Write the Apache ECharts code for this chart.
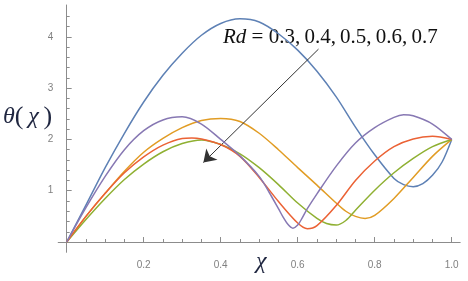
<!DOCTYPE html>
<html><head><meta charset="utf-8">
<script src="https://cdn.jsdelivr.net/npm/echarts@6/dist/echarts.min.js"></script>
<style>html,body{margin:0;padding:0;background:#fff}#c{width:468px;height:281px}</style>
</head><body><div id="c"></div>
<script>
// Data (x = chi, y = theta) per Rd value
const rdLabels = ['Rd=0.3','Rd=0.4','Rd=0.5','Rd=0.6','Rd=0.7'];
const blue = [[0,0],[0.05,0.72],[0.1,1.45],[0.15,2.12],[0.2,2.73],[0.25,3.25],[0.3,3.68],[0.35,4.03],[0.4,4.26],[0.45,4.35],[0.5,4.29],[0.55,4.06],[0.6,3.74],[0.65,3.33],[0.7,2.83],[0.75,2.24],[0.8,1.7],[0.85,1.24],[0.875,1.12],[0.9,1.08],[0.925,1.14],[0.95,1.3],[0.975,1.56],[1.0,2.0]];
const orange = [[0,0],[0.05,0.5],[0.1,0.95],[0.15,1.38],[0.2,1.75],[0.25,2.02],[0.3,2.23],[0.35,2.37],[0.4,2.41],[0.45,2.35],[0.5,2.12],[0.55,1.8],[0.6,1.45],[0.65,1.11],[0.7,0.76],[0.725,0.6],[0.75,0.5],[0.775,0.46],[0.8,0.52],[0.85,0.85],[0.9,1.26],[0.95,1.67],[1.0,2.0]];
const green = [[0,0],[0.05,0.44],[0.1,0.85],[0.15,1.22],[0.2,1.52],[0.25,1.76],[0.3,1.92],[0.35,1.99],[0.4,1.9],[0.45,1.72],[0.5,1.45],[0.55,1.12],[0.6,0.76],[0.65,0.46],[0.675,0.36],[0.7,0.33],[0.725,0.42],[0.75,0.62],[0.8,1.01],[0.85,1.35],[0.9,1.63],[0.95,1.86],[1.0,2.0]];
const red = [[0,0],[0.05,0.5],[0.1,0.95],[0.15,1.35],[0.2,1.66],[0.25,1.89],[0.3,2.02],[0.325,2.03],[0.35,2.01],[0.4,1.9],[0.45,1.67],[0.5,1.26],[0.55,0.79],[0.6,0.37],[0.625,0.26],[0.65,0.32],[0.7,0.71],[0.75,1.2],[0.8,1.58],[0.85,1.86],[0.9,2.01],[0.95,2.06],[1.0,2.0]];
const purple = [[0,0],[0.05,0.67],[0.1,1.28],[0.15,1.8],[0.2,2.17],[0.25,2.38],[0.3,2.44],[0.35,2.3],[0.4,2.0],[0.45,1.68],[0.5,1.28],[0.525,0.98],[0.55,0.65],[0.5625,0.48],[0.575,0.34],[0.5875,0.27],[0.6,0.33],[0.6125,0.48],[0.625,0.65],[0.65,0.94],[0.7,1.48],[0.75,1.93],[0.8,2.23],[0.85,2.43],[0.875,2.48],[0.9,2.46],[0.95,2.3],[1.0,2.0]];
const xTickLabels = [0.2,0.4,0.6,0.8,1.0];
const xMinorTicks = [0.05,0.1,0.15,0.25,0.3,0.35,0.45,0.5,0.55,0.65,0.7,0.75,0.85,0.9,0.95];
const yTickLabels = [1,2,3,4];
const yMinorTicks = [0.2,0.4,0.6,0.8,1.2,1.4,1.6,1.8,2.2,2.4,2.6,2.8,3.2,3.4,3.6,3.8,4.2,4.4];
const arrowFrom = [0.654,3.76];
const arrowTo = [0.355,1.55];

const colors = ['#5E81B5','#E19C24','#8FB032','#EB6235','#8778B3'];
const seriesData = [blue, orange, green, red, purple];
const axisColor = '#8c8c8c';
const X0 = -0.022, X1 = 1.022, Y0 = -0.2, Y1 = 4.62;

const chart = echarts.init(document.getElementById('c'), null, {renderer:'canvas'});
const mkX = (major) => ({
  type:'value', min:X0, max:X1, position:'bottom',
  axisLine:{show:major, onZero:true, lineStyle:{color:axisColor, width:1}},
  splitLine:{show:false},
  axisTick:{show:true, inside:true, length: major?5:3, lineStyle:{color:axisColor},
    customValues: major ? xTickLabels : xMinorTicks},
  axisLabel:{show:major, margin:8, color:'#808080', fontSize:10, fontFamily:'Liberation Sans',
    customValues: xTickLabels, formatter:(v)=>v.toFixed(1)}
});
const mkY = (major) => ({
  type:'value', min:Y0, max:Y1, position:'left',
  axisLine:{show:major, onZero:true, lineStyle:{color:axisColor, width:1}},
  splitLine:{show:false},
  axisTick:{show:true, inside:true, length: major?5:3, lineStyle:{color:axisColor},
    customValues: major ? yTickLabels : yMinorTicks},
  axisLabel:{show:major, margin:5, color:'#808080', fontSize:10, fontFamily:'Liberation Sans',
    customValues: yTickLabels, formatter:(v)=>String(v)}
});

const series = seriesData.map((d,i)=>({
  name: rdLabels[i], type:'line', data:d, smooth:0.3, showSymbol:false, symbol:'none',
  lineStyle:{color:colors[i], width:1.5}, itemStyle:{color:colors[i]}, z:2+i, silent:true
}));
series.push({
  type:'line', data:[], silent:true,
  markLine:{silent:true, symbol:['none','arrow'], symbolSize:12,
    lineStyle:{color:'#333', width:1, type:'solid'},
    itemStyle:{color:'#111'}, label:{show:false}, emphasis:{disabled:true},
    animation:false,
    data:[[{coord:arrowFrom},{coord:arrowTo}]]}
});

chart.setOption({
  animation:false,
  backgroundColor:'#fff',
  grid:{left:58.2, right:7.8, top:5, bottom:28.7, containLabel:false, outerBoundsMode:'none'},
  xAxis:[mkX(true), mkX(false)],
  yAxis:[mkY(true), mkY(false)],
  series: series,
  graphic:[
    {type:'text', left:223, top:27, silent:true,
      style:{text:'{i|Rd} = 0.3,\u20090.4,\u20090.5,\u20090.6,\u20090.7', fill:'#111', font:'21px "Liberation Serif"',
        rich:{i:{fontStyle:'italic', fontFamily:'Liberation Serif', fontSize:21, fill:'#111'}}}},
    {type:'text', left:3, top:104, silent:true,
      style:{text:'{i|θ}{p|(}{i|\u2009χ\u2009}{p|)}', fill:'#1f2640', font:'24px "Liberation Serif"',
        rich:{i:{fontStyle:'italic', fontFamily:'Liberation Serif', fontSize:24, fill:'#1f2640'},
              p:{fontFamily:'Liberation Serif', fontSize:26, fill:'#1f2640'}}}},
    {type:'text', left:256, top:250, silent:true,
      style:{text:'χ', fill:'#1f2640', font:'italic 24px "Liberation Serif"'}}
  ]
});
</script></body></html>
